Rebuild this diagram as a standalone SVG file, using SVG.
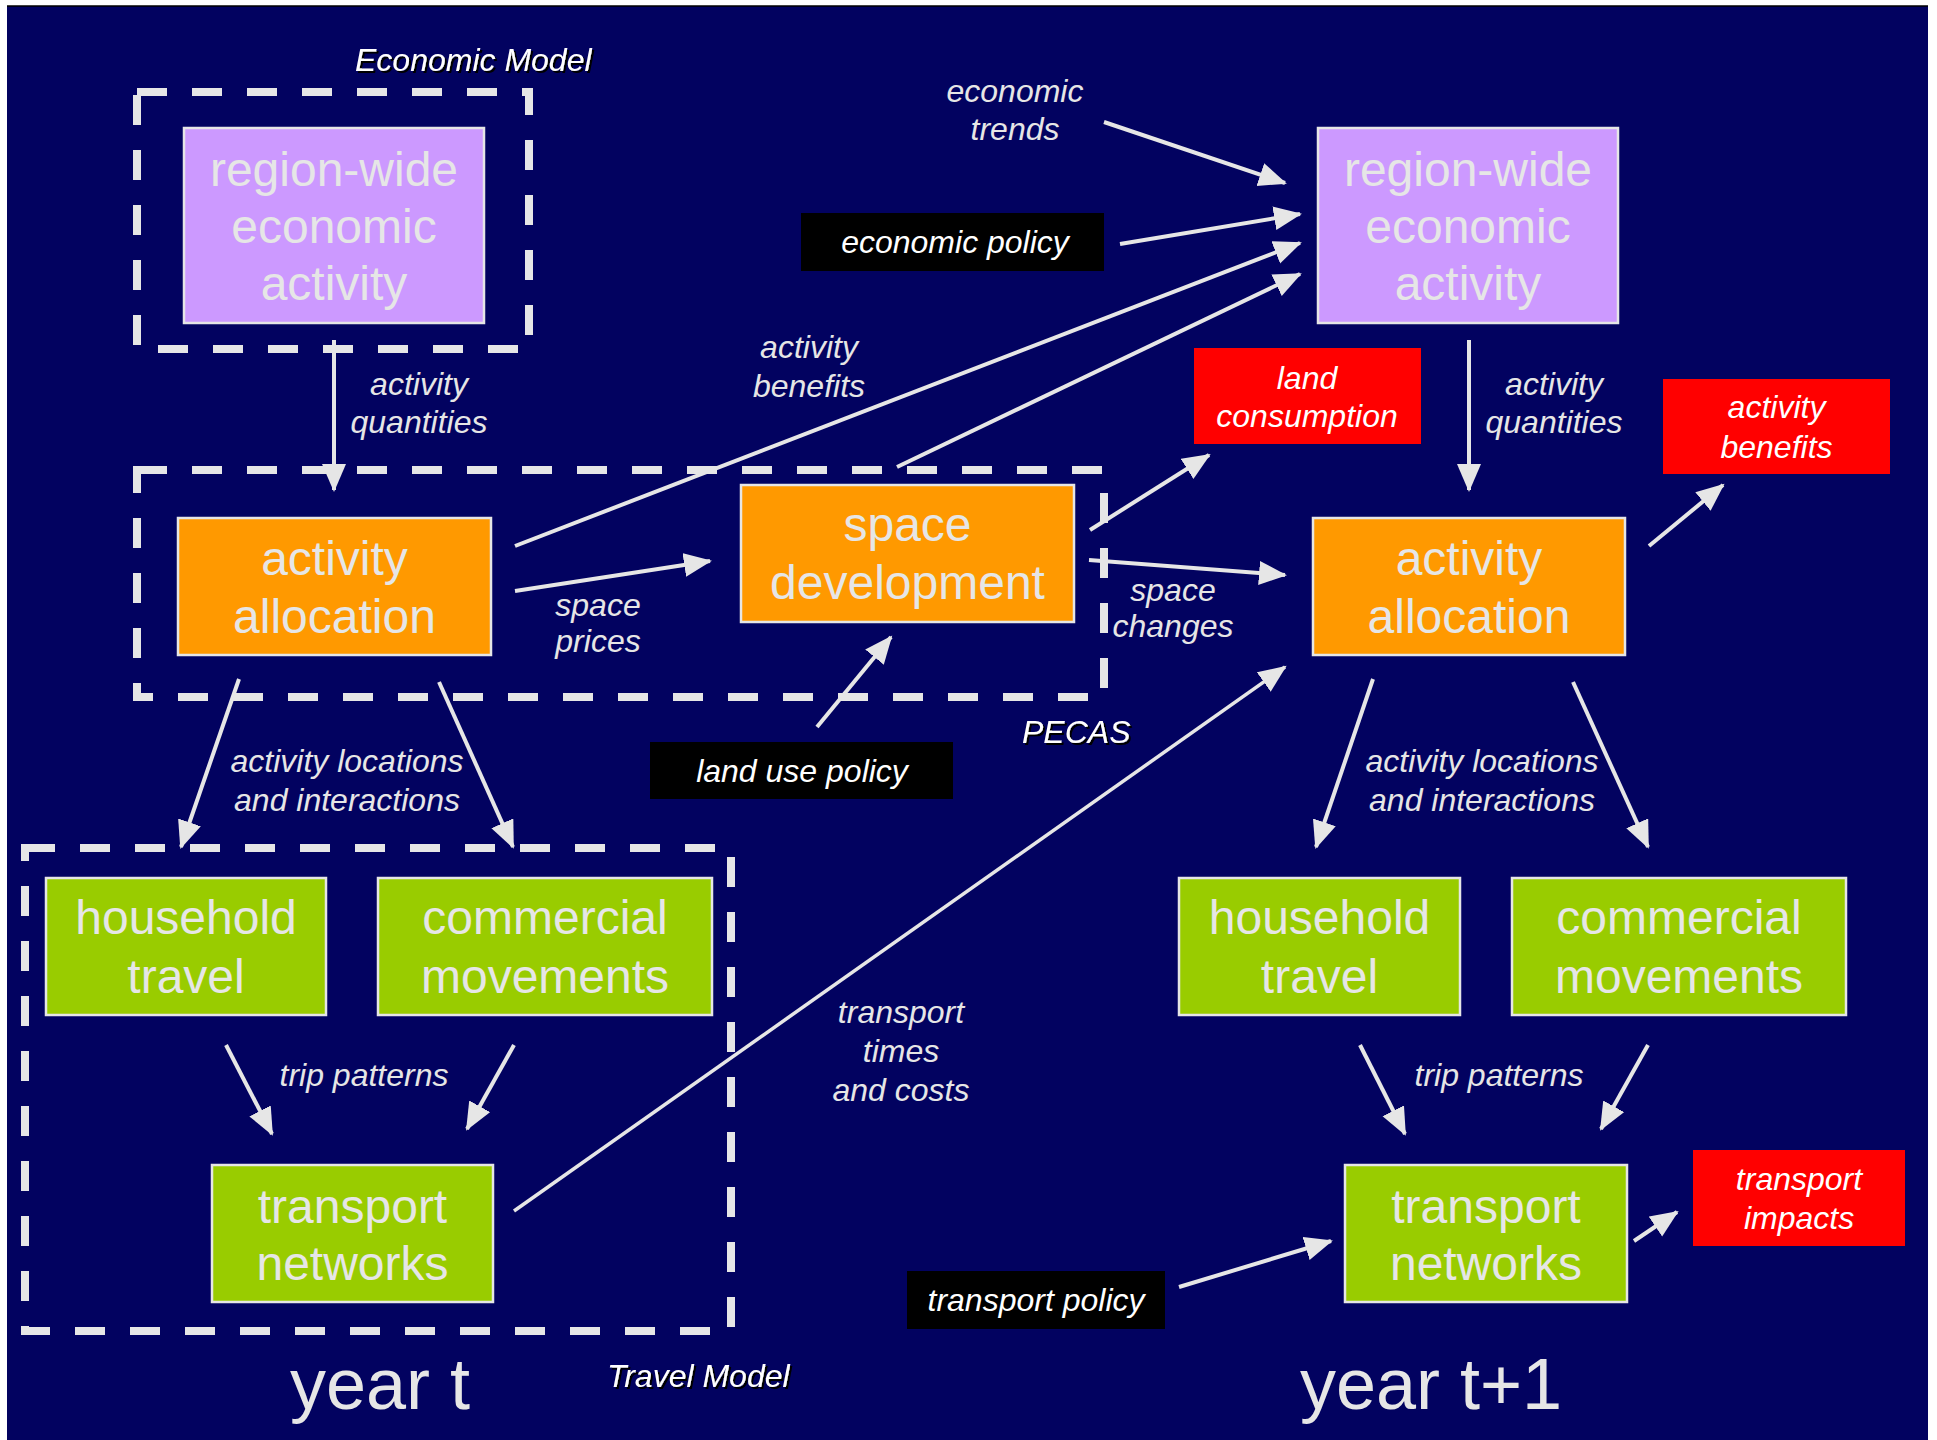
<svg xmlns="http://www.w3.org/2000/svg" width="1937" height="1440" viewBox="0 0 1937 1440">
<defs>
<style>
.node{stroke:#E6E6E6;stroke-width:2.5}
.purple{fill:#CC99FF}
.orange{fill:#FF9900}
.green{fill:#99CC00}
.red{fill:#FF0000}
.blk{fill:#000000}
.nt{font-family:"Liberation Sans",Arial,sans-serif;font-size:48px;fill:#E6E6E6;text-anchor:middle}
.lb{font-family:"Liberation Sans",Arial,sans-serif;font-size:32px;font-style:italic;fill:#E6E6E6;text-anchor:middle}
.wt{font-family:"Liberation Sans",Arial,sans-serif;font-size:32px;font-style:italic;fill:#FFFFFF;text-anchor:middle}
.model{font-family:"Liberation Sans",Arial,sans-serif;font-size:32px;font-style:italic;fill:#FFFFFF;filter:url(#sh)}
.year{font-family:"Liberation Sans",Arial,sans-serif;font-size:72px;fill:#E6E6E6;text-anchor:middle}
.dash{fill:none;stroke:#E6E6E6;stroke-width:8;stroke-dasharray:30 25}
.arr{fill:none;stroke:#E6E6E6;stroke-width:4;marker-end:url(#ah)}
</style>
<marker id="ah" markerUnits="userSpaceOnUse" markerWidth="30" markerHeight="26" refX="26" refY="12" orient="auto">
<path d="M0,0 L28,12 L0,24 z" fill="#E6E6E6"/>
</marker>
<filter id="sh" x="-10%" y="-30%" width="130%" height="160%">
<feDropShadow dx="2" dy="2" stdDeviation="0.6" flood-color="#000000" flood-opacity="1"/>
</filter>
</defs>

<rect x="0" y="0" width="1937" height="1440" fill="#FFFFFF"/>
<rect x="7" y="6" width="1921" height="1434" fill="#020260"/>
<line x1="7" y1="6" x2="1928" y2="6" stroke="#000000" stroke-width="1.5"/>

<g id="model-boxes">
<rect class="dash" x="137" y="92" width="392" height="257"/>
<rect class="dash" x="137" y="470" width="967" height="227"/>
<rect class="dash" x="25" y="848" width="706" height="483"/>
<text class="model" x="355" y="71">Economic Model</text>
<text class="model" x="1022" y="743">PECAS</text>
<text class="model" x="607" y="1387">Travel Model</text>
</g>

<g id="connectors">
<line class="arr" x1="334" y1="340" x2="334" y2="490"/>
<line class="arr" x1="1469" y1="340" x2="1469" y2="490"/>
<line class="arr" x1="1104" y1="122" x2="1285" y2="183"/>
<line class="arr" x1="1120" y1="244" x2="1300" y2="214"/>
<line class="arr" x1="515" y1="546" x2="1300" y2="243"/>
<line class="arr" x1="897" y1="467" x2="1300" y2="274"/>
<line class="arr" x1="515" y1="591" x2="710" y2="561"/>
<line class="arr" x1="1090" y1="530" x2="1209" y2="455"/>
<line class="arr" x1="1089" y1="560" x2="1285" y2="575"/>
<line class="arr" x1="817" y1="727" x2="891" y2="637"/>
<line class="arr" x1="1649" y1="546" x2="1723" y2="485"/>
<line class="arr" x1="239" y1="679" x2="181" y2="847"/>
<line class="arr" x1="439" y1="682" x2="513" y2="847"/>
<line class="arr" x1="1373" y1="679" x2="1316" y2="847"/>
<line class="arr" x1="1573" y1="682" x2="1648" y2="847"/>
<line class="arr" x1="226" y1="1045" x2="272" y2="1134"/>
<line class="arr" x1="514" y1="1045" x2="467" y2="1129"/>
<line class="arr" x1="1360" y1="1045" x2="1405" y2="1134"/>
<line class="arr" x1="1648" y1="1045" x2="1601" y2="1129"/>
<line class="arr" x1="514" y1="1211" x2="1285" y2="667" style="stroke-width:3.5"/>
<line class="arr" x1="1179" y1="1287" x2="1331" y2="1241"/>
<line class="arr" x1="1634" y1="1241" x2="1677" y2="1212"/>
</g>

<g id="connector-labels">
<text class="lb" x="419" y="395">activity</text>
<text class="lb" x="419" y="433">quantities</text>
<text class="lb" x="1554" y="395">activity</text>
<text class="lb" x="1554" y="433">quantities</text>
<text class="lb" x="1015" y="102">economic</text>
<text class="lb" x="1015" y="140">trends</text>
<text class="lb" x="809" y="358">activity</text>
<text class="lb" x="809" y="397">benefits</text>
<text class="lb" x="598" y="616">space</text>
<text class="lb" x="598" y="652">prices</text>
<text class="lb" x="1173" y="601">space</text>
<text class="lb" x="1173" y="637">changes</text>
<text class="lb" x="347" y="772">activity locations</text>
<text class="lb" x="347" y="811">and interactions</text>
<text class="lb" x="1482" y="772">activity locations</text>
<text class="lb" x="1482" y="811">and interactions</text>
<text class="lb" x="364" y="1086">trip patterns</text>
<text class="lb" x="1499" y="1086">trip patterns</text>
<text class="lb" x="901" y="1023">transport</text>
<text class="lb" x="901" y="1062">times</text>
<text class="lb" x="901" y="1101">and costs</text>
</g>

<g id="region-wide-economic-activity-t">
<rect class="node purple" x="184" y="128" width="300" height="195"/>
<text class="nt" x="334" y="186">region-wide</text>
<text class="nt" x="334" y="243">economic</text>
<text class="nt" x="334" y="300">activity</text>
</g>
<g id="region-wide-economic-activity-t1">
<rect class="node purple" x="1318" y="128" width="300" height="195"/>
<text class="nt" x="1468" y="186">region-wide</text>
<text class="nt" x="1468" y="243">economic</text>
<text class="nt" x="1468" y="300">activity</text>
</g>
<g id="activity-allocation-t">
<rect class="node orange" x="178" y="518" width="313" height="137"/>
<text class="nt" x="334.5" y="575">activity</text>
<text class="nt" x="334.5" y="633">allocation</text>
</g>
<g id="space-development">
<rect class="node orange" x="741" y="485" width="333" height="137"/>
<text class="nt" x="907.5" y="541">space</text>
<text class="nt" x="907.5" y="599">development</text>
</g>
<g id="activity-allocation-t1">
<rect class="node orange" x="1313" y="518" width="312" height="137"/>
<text class="nt" x="1469" y="575">activity</text>
<text class="nt" x="1469" y="633">allocation</text>
</g>
<g id="household-travel-t">
<rect class="node green" x="46" y="878" width="280" height="137"/>
<text class="nt" x="186" y="934">household</text>
<text class="nt" x="186" y="993">travel</text>
</g>
<g id="commercial-movements-t">
<rect class="node green" x="378" y="878" width="334" height="137"/>
<text class="nt" x="545" y="934">commercial</text>
<text class="nt" x="545" y="993">movements</text>
</g>
<g id="transport-networks-t">
<rect class="node green" x="212" y="1165" width="281" height="137"/>
<text class="nt" x="352.5" y="1223">transport</text>
<text class="nt" x="352.5" y="1280">networks</text>
</g>
<g id="household-travel-t1">
<rect class="node green" x="1179" y="878" width="281" height="137"/>
<text class="nt" x="1319.5" y="934">household</text>
<text class="nt" x="1319.5" y="993">travel</text>
</g>
<g id="commercial-movements-t1">
<rect class="node green" x="1512" y="878" width="334" height="137"/>
<text class="nt" x="1679" y="934">commercial</text>
<text class="nt" x="1679" y="993">movements</text>
</g>
<g id="transport-networks-t1">
<rect class="node green" x="1345" y="1165" width="282" height="137"/>
<text class="nt" x="1486" y="1223">transport</text>
<text class="nt" x="1486" y="1280">networks</text>
</g>

<g id="economic-policy">
<rect class="blk" x="801" y="213" width="303" height="58"/>
<text class="wt" x="955" y="253">economic policy</text>
</g>
<g id="land-use-policy">
<rect class="blk" x="650" y="742" width="303" height="57"/>
<text class="wt" x="802" y="782">land use policy</text>
</g>
<g id="transport-policy">
<rect class="blk" x="907" y="1271" width="258" height="58"/>
<text class="wt" x="1036" y="1311">transport policy</text>
</g>
<g id="land-consumption">
<rect class="red" x="1194" y="348" width="227" height="96"/>
<text class="wt" x="1307" y="389">land</text>
<text class="wt" x="1307" y="427">consumption</text>
</g>
<g id="activity-benefits">
<rect class="red" x="1663" y="379" width="227" height="95"/>
<text class="wt" x="1776.5" y="418">activity</text>
<text class="wt" x="1776.5" y="458">benefits</text>
</g>
<g id="transport-impacts">
<rect class="red" x="1693" y="1150" width="212" height="96"/>
<text class="wt" x="1799" y="1190">transport</text>
<text class="wt" x="1799" y="1229">impacts</text>
</g>

<g id="year-labels">
<text class="year" x="380" y="1409">year t</text>
<text class="year" x="1431" y="1409">year t+1</text>
</g>
</svg>
